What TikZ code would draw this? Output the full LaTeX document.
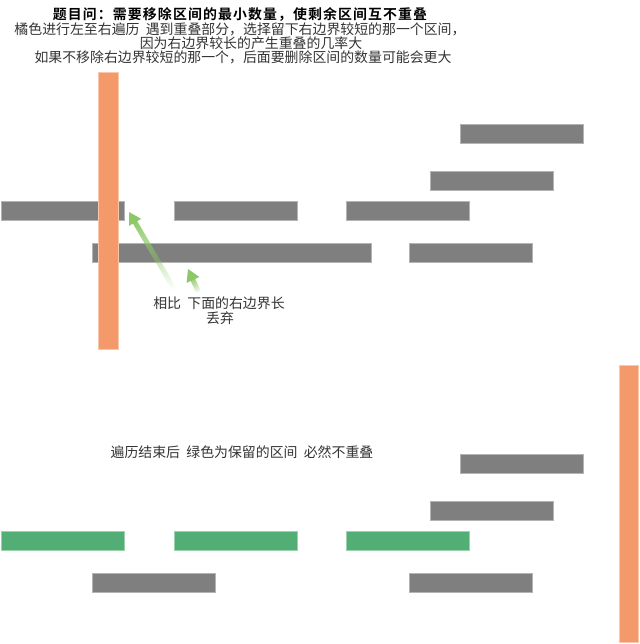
\documentclass[tikz,border=0pt]{standalone}
\usepackage{fontspec}
\setmainfont{Noto Sans CJK SC}[BoldFont={Noto Sans CJK SC Bold}]
\usetikzlibrary{calc}
\definecolor{bargray}{HTML}{7F7F7F}
\definecolor{bargrayedge}{HTML}{B4B4B4}
\definecolor{barorange}{HTML}{F4996A}
\definecolor{barorangeedge}{HTML}{F9C7AC}
\definecolor{bargreen}{HTML}{52AE74}
\definecolor{bargreenedge}{HTML}{9BD2AE}
\definecolor{arrowgreen}{HTML}{8CC866}
\definecolor{txt}{HTML}{333333}
\newcommand{\wsp}{\hspace{0.45em}}
\tikzset{
  graybar/.style={fill=bargray,draw=bargrayedge,line width=0.8pt},
  orangebar/.style={fill=barorange,draw=barorangeedge,line width=0.8pt},
  greenbar/.style={fill=bargreen,draw=bargreenedge,line width=0.8pt},
  txtline/.style={inner sep=0pt,text=txt,font=\fontsize{13.9}{14}\selectfont},
  titleline/.style={inner sep=0pt,text=black,font=\fontsize{13.9}{14}\selectfont\bfseries\addfontfeature{LetterSpace=8}},
}
\newcommand{\fadearrow}[2]{%
  \foreach \i in {0,...,23}{%
    \draw[line width=5pt,arrowgreen,opacity=\i/24]
      ($(#1)!{\i/24}!($(#2)!11pt!(#1)$)$) -- ($(#1)!{(\i+1)/24}!($(#2)!11pt!(#1)$)$);
  }%
  \fill[arrowgreen] (#2) -- ($($(#2)!12pt!(#1)$)!7pt!90:(#2)$) -- ($($(#2)!12pt!(#1)$)!7pt!-90:(#2)$) -- cycle;
}
\begin{document}
\begin{tikzpicture}[x=1pt,y=-1pt]
\useasboundingbox (0,0) rectangle (639,644);
% texts
\node[titleline] (t1) at (240,14) {题目问：需要移除区间的最小数量，使剩余区间互不重叠};
\node[txtline] (t2) at (240,29) {橘色进行左至右遍历\wsp 遇到重叠部分，选择留下右边界较短的那一个区间，};
\node[txtline] (t3) at (251,43) {因为右边界较长的产生重叠的几率大};
\node[txtline] (t4) at (243,57) {如果不移除右边界较短的那一个，后面要删除区间的数量可能会更大};
% top section bars
\path[graybar] (460,124) rectangle (583,143) node[pos=.5] (g1) {};
\path[graybar] (430,171) rectangle (553,190) node[pos=.5] (g2) {};
\path[graybar] (1,201) rectangle (124,220) node[pos=.5] (g3) {};
\path[graybar] (174,201) rectangle (297,220) node[pos=.5] (g4) {};
\path[graybar] (346,201) rectangle (469,220) node[pos=.5] (g5) {};
\path[graybar] (92,243) rectangle (371,262) node[pos=.5] (g6) {};
\path[graybar] (409,243) rectangle (532,262) node[pos=.5] (g7) {};
\path[orangebar] (98,72) rectangle (118,349) node[pos=.5] (o1) {};
% arrows
\coordinate (a1tail) at (176,292);
\coordinate (a1tip) at (129,212);
\coordinate (a2tail) at (199,293);
\coordinate (a2tip) at (188,269);
\fadearrow{a1tail}{a1tip}
\fadearrow{a2tail}{a2tip}
\node[txtline] (c1) at (219,303) {相比\wsp 下面的右边界长};
\node[txtline] (c2) at (220,318) {丢弃};
% bottom section
\node[txtline] (b1) at (242,452) {遍历结束后\wsp 绿色为保留的区间\wsp 必然不重叠};
\path[graybar] (460,454) rectangle (583,473) node[pos=.5] (h1) {};
\path[graybar] (430,501) rectangle (553,520) node[pos=.5] (h2) {};
\path[greenbar] (1,531) rectangle (124,550) node[pos=.5] (k1) {};
\path[greenbar] (174,531) rectangle (297,550) node[pos=.5] (k2) {};
\path[greenbar] (346,531) rectangle (469,550) node[pos=.5] (k3) {};
\path[graybar] (92,573) rectangle (215,592) node[pos=.5] (h3) {};
\path[graybar] (409,573) rectangle (532,592) node[pos=.5] (h4) {};
\path[orangebar] (619,365) rectangle (638,642) node[pos=.5] (o2) {};
\end{tikzpicture}
\end{document}
